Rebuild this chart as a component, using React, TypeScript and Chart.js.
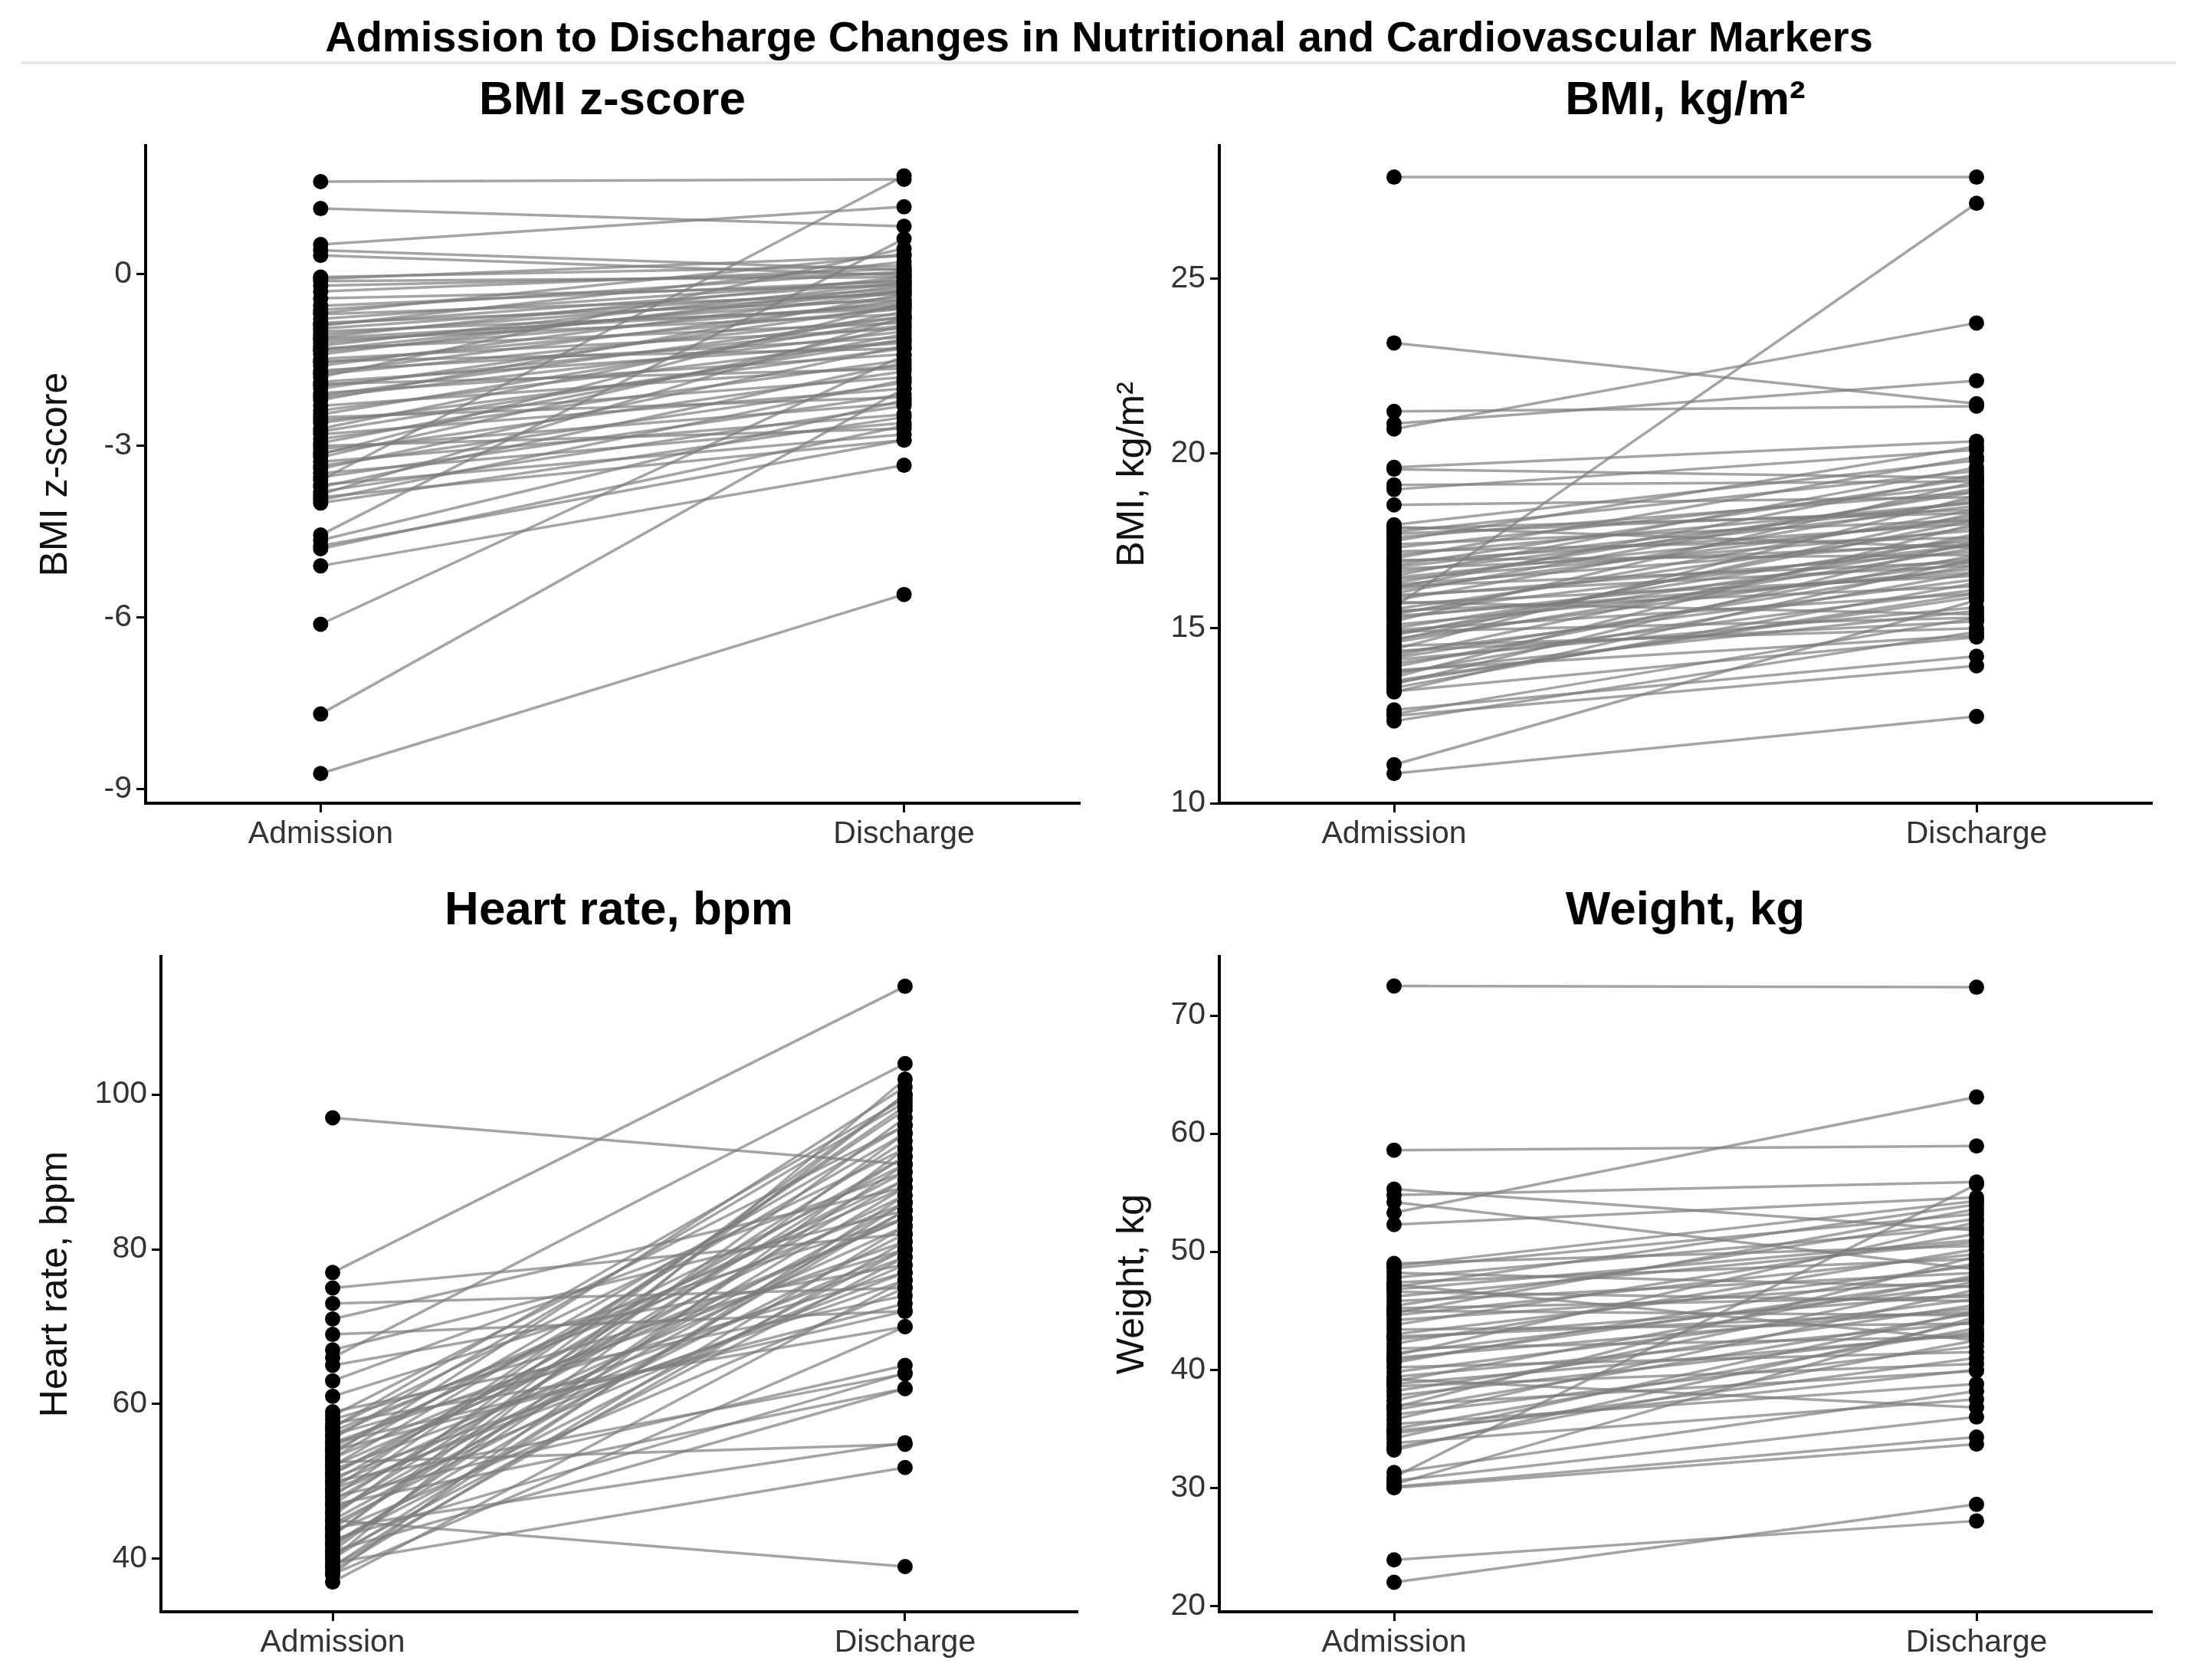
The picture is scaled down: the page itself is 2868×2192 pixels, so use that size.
import React, { useEffect, useRef } from 'react';
import { Chart, registerables } from 'chart.js';

Chart.register(...registerables);

const FONT = "'Liberation Sans', Arial, Helvetica, sans-serif";
Chart.defaults.font.family = FONT;

const categories = ['Admission', 'Discharge'];

// BMI z-score
const bmiZAdmission = [
  1.62, 1.15, 0.52, 0.42, 0.33, -0.05, -0.08, -0.12, -0.2, -0.3, -0.42, -0.55, -0.62, -0.7, -0.78, -0.85,
  -0.9, -0.95, -1.0, -1.05, -1.1, -1.15, -1.2, -1.25, -1.3, -1.35, -1.4, -1.48, -1.55, -1.6, -1.68, -1.75,
  -1.8, -1.88, -1.95, -2.0, -2.08, -2.15, -2.2, -2.3, -2.38, -2.45, -2.55, -2.6, -2.7, -2.8, -2.88, -2.95,
  -3.05, -3.12, -3.2, -3.28, -3.35, -3.4, -3.48, -3.55, -3.6, -3.68, -3.72, -3.8, -3.85, -3.9, -3.95, -4.0,
  -4.56, -4.65, -4.75, -4.8, -5.1, -6.12, -7.69, -8.73,
  -0.88, -1.12, -1.32, -1.52, -1.72, -1.92, -2.12, -2.5, -2.75, -3.0, -3.15, -0.68,
];
const bmiZDischarge = [
  1.66, 0.84, 1.18, 0.08, -0.02, 0.15, 0.32, -0.05, 0.02, 0.1, -0.2, -0.12, 0.05, -0.35, -0.1, -0.45,
  0.22, -0.25, -0.6, -0.3, -0.05, -0.7, -0.4, -0.15, -0.85, -0.5, -0.2, -0.95, -0.6, -0.3, -1.1, -0.75,
  0.45, -1.2, -0.9, -0.55, -1.4, -1.0, -0.35, -1.6, -1.15, -0.8, -1.8, -1.3, -0.65, -2.0, -1.5, -1.05,
  -2.25, -1.7, -0.9, -2.45, -1.9, -1.25, -2.6, -2.1, 1.72, -2.8, -1.55, -2.3, -0.75, -2.9, -1.85, -2.5,
  0.62, -2.2, -2.9, -2.65, -3.34, -1.42, -2.0, -5.6,
  -0.15, -0.55, -0.28, -1.3, -0.45, -1.65, -0.75, -2.15, -1.15, -2.7, -0.5, 0.35,
];
const bmiZTicks = [-9, -6, -3, 0];

// BMI, kg/m²
const bmiAdmission = [
  27.9, 23.16, 21.2, 20.85, 20.7, 19.6, 19.55, 19.1, 18.97, 18.53, 17.96, 17.85, 17.75, 17.6, 17.5, 17.4,
  17.3, 17.2, 17.1, 17.0, 16.9, 16.8, 16.7, 16.6, 16.5, 16.4, 16.3, 16.2, 16.1, 16.0, 15.9, 15.8,
  15.7, 15.6, 15.55, 15.5, 15.4, 15.3, 15.2, 15.1, 15.0, 14.9, 14.8, 14.7, 14.6, 14.5, 14.4, 14.3,
  14.2, 14.1, 14.0, 13.9, 13.8, 13.7, 13.6, 13.5, 13.4, 13.3, 13.2, 13.18, 12.67, 12.55, 12.5, 12.35,
  11.1, 10.85,
  17.7, 16.95, 16.45, 15.95, 15.45, 14.95, 14.65, 16.15, 15.75, 14.35, 17.9, 16.75, 16.25, 15.35, 14.85,
  14.15, 13.75, 13.45,
];
const bmiDischarge = [
  27.9, 21.42, 21.35, 22.08, 23.73, 20.35, 19.3, 19.2, 20.1, 18.75, 19.8, 18.3, 19.5, 18.9, 20.2, 18.1,
  19.1, 17.6, 18.6, 19.9, 18.0, 19.3, 17.4, 18.5, 19.6, 17.8, 18.9, 16.9, 18.2, 19.0, 17.2, 18.7,
  16.5, 27.15, 17.9, 16.2, 18.4, 17.0, 19.2, 16.7, 17.6, 15.3, 18.1, 16.9, 17.3, 15.0, 18.8, 16.4,
  17.7, 15.6, 16.1, 17.1, 14.8, 16.6, 18.0, 15.9, 17.5, 16.3, 14.75, 17.0, 14.2, 15.3, 13.93, 14.9,
  15.8, 12.48,
  18.4, 17.1, 18.1, 16.8, 17.4, 16.0, 18.3, 19.4, 15.4, 15.2, 17.3, 18.6, 17.5, 16.6, 17.4,
  16.8, 15.5, 16.0,
];
const bmiTicks = [10, 15, 20, 25];

// Heart rate, bpm
const hrAdmission = [
  97, 77, 75, 73, 71, 69, 67, 66, 65, 63, 61, 59, 58.5, 58, 57.5, 57, 56.5, 56, 55.5, 55, 54.5, 54, 53.5,
  53, 52.5, 52, 51.5, 51, 50.5, 50, 49.5, 49, 48.5, 48, 47.5, 47, 46.5, 46, 45.5, 45, 44.5, 44, 43.5, 43,
  42.5, 42, 41.5, 41, 40.5, 40, 39.5, 39, 38.5, 38, 37,
  57, 55, 53, 51, 49, 47, 45, 43, 41, 39, 38, 50, 48, 46, 44, 42, 40, 54, 52, 56,
];
const hrDischarge = [
  91, 114, 82, 75, 88, 72, 85, 104, 78, 90, 84, 74, 96, 80, 70, 93, 86, 77, 99, 81, 89, 73, 101,
  84, 54.8, 95, 79, 87, 76, 92, 83, 98, 80, 65, 89, 94, 78, 86, 100, 39, 82, 88, 75, 97,
  64, 85, 91, 62, 79, 102, 51.8, 87, 83, 93, 76,
  99.5, 72, 96, 90, 77, 62, 85, 100, 95, 81, 70, 63.9, 98.5, 92, 55, 80, 86, 91, 84, 88,
];
const hrTicks = [40, 60, 80, 100];

// Weight, kg
const weightAdmission = [
  72.5, 58.6, 55.3, 54.8, 54.2, 53.3, 52.3, 49.0, 48.6, 48.2, 47.8, 47.4, 47.0, 46.6, 46.2, 45.8, 45.4,
  45.0, 44.6, 44.2, 43.8, 43.4, 43.0, 42.6, 42.2, 41.8, 41.4, 41.0, 40.6, 40.2, 39.8, 39.4, 39.0, 38.6,
  38.2, 37.8, 37.4, 37.0, 36.6, 36.2, 35.8, 35.4, 35.0, 34.6, 34.2, 33.8, 33.4, 33.2, 31.3, 30.9, 30.6,
  30.3, 30.1, 30.0, 23.9, 22.0,
  48.8, 46.8, 44.8, 42.8, 40.8, 38.8, 36.8, 34.8, 45.2, 41.2, 39.2, 47.2,
];
const weightDischarge = [
  72.4, 58.95, 51.8, 55.9, 48.5, 63.1, 54.6, 50.5, 53.2, 47.0, 52.1, 49.4, 54.0, 45.8, 50.8, 48.2, 52.8,
  44.6, 49.8, 47.6, 51.5, 43.9, 48.8, 46.4, 50.2, 42.8, 47.2, 45.2, 49.0, 41.5, 46.0, 44.0, 48.0, 40.5,
  45.5, 43.2, 47.5, 39.9, 44.8, 42.0, 46.8, 38.8, 43.5, 41.0, 45.0, 37.5, 42.5, 44.2, 38.2, 55.7, 36.0,
  44.5, 34.3, 33.7, 27.2, 28.6,
  54.3, 51.0, 53.6, 44.9, 47.8, 43.0, 49.6, 40.0, 46.2, 52.5, 36.8, 42.5,
];
const weightTicks = [20, 30, 40, 50, 60, 70];

type PanelProps = {
  title: string;
  axisTitle: string;
  admission: number[];
  discharge: number[];
  ticks: number[];
  yMin: number;
  yMax: number;
  left: number;
  top: number;
  width: number;
  height: number;
  axisWidth: number;
  rightPad: number;
  axisTitlePad: number;
  titleBottomPad: number;
};

function PairedPanel(props: PanelProps) {
  const canvasRef = useRef<HTMLCanvasElement>(null);

  useEffect(() => {
    if (!canvasRef.current) return;
    const { admission, discharge, ticks } = props;

    // one segment per patient, points drawn last so they sit on top
    const lines = admission.map((a, i) => ({
      data: [{ x: 1, y: a }, { x: 2, y: discharge[i] }],
      showLine: true,
      borderColor: 'rgba(125,125,125,0.7)',
      borderWidth: 3.5,
      pointRadius: 0,
      order: 1,
    }));
    const points = {
      data: [
        ...admission.map((v) => ({ x: 1, y: v })),
        ...discharge.map((v) => ({ x: 2, y: v })),
      ],
      showLine: false,
      pointRadius: 10,
      pointBackgroundColor: '#000',
      pointBorderWidth: 0,
      order: 0,
    };

    const chart = new Chart(canvasRef.current, {
      type: 'scatter',
      data: { datasets: [...lines, points] as any },
      options: {
        animation: false,
        responsive: false,
        events: [],
        layout: { padding: { left: 0, right: props.rightPad, top: 0, bottom: 0 } },
        plugins: {
          legend: { display: false },
          tooltip: { enabled: false },
          title: {
            display: true,
            text: props.title,
            color: '#000',
            fullSize: false,
            font: { size: 62, weight: 'bold', lineHeight: 1.2 },
            padding: { top: 4.8, bottom: props.titleBottomPad },
          },
        },
        scales: {
          x: {
            type: 'linear',
            min: 0.7,
            max: 2.3,
            afterBuildTicks: (s: any) => {
              s.ticks = [{ value: 1 }, { value: 2 }];
            },
            afterFit: (s: any) => {
              s.height = 75;
            },
            ticks: {
              callback: (v: any) => categories[Math.round(Number(v)) - 1],
              color: '#333',
              font: { size: 41 },
              padding: 4,
              maxRotation: 0,
            },
            grid: { display: true, drawOnChartArea: false, drawTicks: true, tickLength: 12, color: '#000', lineWidth: 3 },
            border: { display: true, color: '#000', width: 4 },
          },
          y: {
            type: 'linear',
            min: props.yMin,
            max: props.yMax,
            afterBuildTicks: (s: any) => {
              s.ticks = ticks.map((value) => ({ value }));
            },
            afterFit: (s: any) => {
              s.width = props.axisWidth;
            },
            ticks: {
              callback: (v: any) => String(v),
              color: '#333',
              font: { size: 41 },
              padding: 6,
            },
            title: {
              display: true,
              text: props.axisTitle,
              color: '#111',
              font: { size: 50, lineHeight: 1.2 },
              padding: { top: props.axisTitlePad, bottom: 0 },
            },
            grid: { display: true, drawOnChartArea: false, drawTicks: true, tickLength: 12, color: '#000', lineWidth: 3 },
            border: { display: true, color: '#000', width: 4 },
          },
        },
      } as any,
    });

    return () => {
      chart.destroy();
    };
  }, []);

  return (
    <div style={{ position: 'absolute', left: props.left, top: props.top, width: props.width, height: props.height }}>
      <canvas ref={canvasRef} width={props.width} height={props.height}></canvas>
    </div>
  );
}

export default function App() {
  return (
    <div style={{ position: 'absolute', left: 0, top: 0, width: 2868, height: 2192, background: '#fff', overflow: 'hidden', fontFamily: FONT }}>
      <div style={{ position: 'absolute', left: 0, top: 16, width: 2868, height: 64, lineHeight: '64px', textAlign: 'center', fontSize: 56, fontWeight: 'bold', color: '#000' }}>
        Admission to Discharge Changes in Nutritional and Cardiovascular Markers
      </div>
      <div style={{ position: 'absolute', left: 27, top: 80, width: 2812, height: 4, background: '#e8e8e8' }} />

      <PairedPanel title="BMI z-score" axisTitle="BMI z-score" admission={bmiZAdmission} discharge={bmiZDischarge}
        ticks={bmiZTicks} yMin={-9.25} yMax={2.25}
        left={0} top={90} width={1434} height={1033} axisWidth={190} rightPad={26} axisTitlePad={43} titleBottomPad={20.8} />
      <PairedPanel title="BMI, kg/m²" axisTitle="BMI, kg/m²" admission={bmiAdmission} discharge={bmiDischarge}
        ticks={bmiTicks} yMin={10} yMax={28.8}
        left={1434} top={90} width={1434} height={1033} axisWidth={157} rightPad={61} axisTitlePad={14} titleBottomPad={20.8} />
      <PairedPanel title="Heart rate, bpm" axisTitle="Heart rate, bpm" admission={hrAdmission} discharge={hrDischarge}
        ticks={hrTicks} yMin={33.15} yMax={117.85}
        left={0} top={1147} width={1434} height={1031} axisWidth={210} rightPad={29} axisTitlePad={43} titleBottomPad={21.8} />
      <PairedPanel title="Weight, kg" axisTitle="Weight, kg" admission={weightAdmission} discharge={weightDischarge}
        ticks={weightTicks} yMin={19.5} yMax={75}
        left={1434} top={1147} width={1434} height={1031} axisWidth={157} rightPad={61} axisTitlePad={14} titleBottomPad={21.8} />
    </div>
  );
}
